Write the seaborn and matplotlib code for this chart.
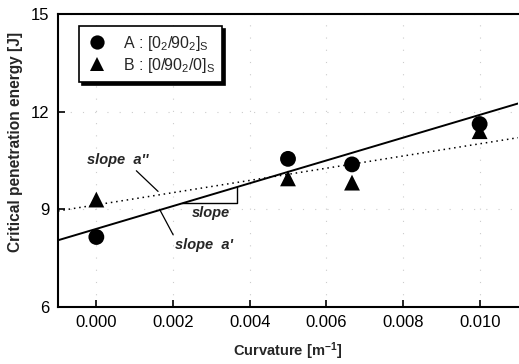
import matplotlib
matplotlib.use("Agg")
import matplotlib.pyplot as plt
import seaborn as sns
import pandas as pd

curvature = [0.0, 0.005, 0.00667, 0.010]
energy_A = [8.15, 10.55, 10.38, 11.62]
energy_B = [9.30, 9.95, 9.82, 11.40]
label_A = r"A : [0$_2$/90$_2$]$_\mathrm{S}$"
label_B = r"B : [0/90$_2$/0]$_\mathrm{S}$"

fit_x = [-0.001, 0.011]
fit_solid_y = [8.05, 12.25]
fit_dotted_y = [8.95, 11.20]

x_ticks = [0.000, 0.002, 0.004, 0.006, 0.008, 0.010]
y_ticks = [6, 9, 12, 15]

sns.set_theme(style="white")
plt.rcParams['font.family'] = ['Liberation Sans', 'DejaVu Sans']
plt.rcParams['mathtext.fontset'] = 'custom'
plt.rcParams['mathtext.rm'] = 'Liberation Sans'
plt.rcParams['mathtext.it'] = 'Liberation Sans:italic'
plt.rcParams['mathtext.bf'] = 'Liberation Sans:bold'

df = pd.DataFrame({
    "x": curvature * 2,
    "y": energy_A + energy_B,
    "series": [label_A] * len(curvature) + [label_B] * len(curvature),
})

fig = plt.figure(figsize=(5.19, 3.64), dpi=100)
ax = fig.add_axes([0.1118, 0.1566, 0.8862, 0.805])

ax.grid(True, color="#cccccc", linestyle=(0, (1, 10)), linewidth=0.8)

sns.lineplot(x=fit_x, y=fit_solid_y, ax=ax, color="black", linewidth=1.4)
sns.lineplot(x=fit_x, y=fit_dotted_y, ax=ax, color="black", linewidth=1.1,
             linestyle=(0, (1, 2.5)))

sns.scatterplot(data=df, x="x", y="y", hue="series", style="series",
                markers={label_A: "o", label_B: "^"},
                palette={label_A: "black", label_B: "black"},
                s=130, edgecolor="black", linewidth=0, ax=ax, zorder=5)

# slope triangle
ax.plot([0.00223, 0.00368, 0.00368], [9.18, 9.18, 9.69], color="black", lw=1.0)

ax.text(0.0025, 8.9, "slope", fontsize=10.5, fontweight="bold", fontstyle="italic",
        va="center", ha="left")
ax.annotate("slope  a''", xy=(0.00161, 9.55), xytext=(-0.00025, 10.5),
            fontsize=10.5, fontweight="bold", fontstyle="italic",
            ha="left", va="center",
            arrowprops=dict(arrowstyle="-", color="black", lw=0.9,
                            shrinkA=0, shrinkB=0, relpos=(0.75, 0.0)))
ax.annotate("slope  a'", xy=(0.00165, 9.0), xytext=(0.00205, 7.9),
            fontsize=10.5, fontweight="bold", fontstyle="italic",
            ha="left", va="center",
            arrowprops=dict(arrowstyle="-", color="black", lw=0.9,
                            shrinkA=0, shrinkB=0, relpos=(0.0, 1.0)))

ax.set_xlim(-0.001, 0.011)
ax.set_ylim(6, 15)
ax.set_xticks(x_ticks)
ax.set_xticklabels([f"{v:.3f}" for v in x_ticks])
ax.set_yticks(y_ticks)
ax.tick_params(direction="in", length=5, width=1.2, labelsize=12, colors="black",
               bottom=True, left=True, pad=6)
ax.set_xlabel(r"Curvature [m$^{\mathbf{-1}}$]", fontsize=10.5, fontweight="bold",
              labelpad=7)
ax.set_ylabel("Critical penetration energy [J]", fontsize=11.2, fontweight="bold")
ax.yaxis.set_label_coords(-0.076, 0.563)

for side in ["left", "bottom", "top"]:
    ax.spines[side].set_color("black")
    ax.spines[side].set_linewidth(1.5)
ax.spines["right"].set_visible(False)

leg = ax.legend(loc="upper left", bbox_to_anchor=(0.028, 0.985), frameon=True,
                fancybox=False, shadow={"color": "black", "alpha": 1.0},
                fontsize=11.5, handletextpad=0.9, handlelength=1.4,
                borderpad=0.45, labelspacing=0.2, markerscale=0.9)
leg.get_frame().set_edgecolor("black")
leg.get_frame().set_linewidth(1.2)

fig.savefig("out.png", dpi=100)
